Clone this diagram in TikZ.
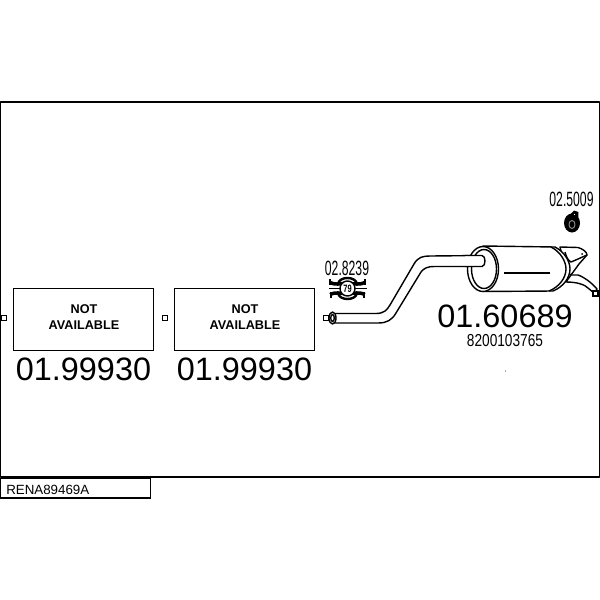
\documentclass[tikz,border=0pt]{standalone}
\usepackage{fontspec}
\setmainfont{Liberation Sans}
\tikzset{
  line/.style={draw=black,line width=1.05pt,line join=round},
  naBox/.style={draw=black,line width=1.1pt,minimum width=105pt,minimum height=46.5pt,inner sep=0pt,anchor=north west},
  naText/.style={font=\fontsize{9.5pt}{12.2pt}\selectfont\bfseries,align=center,inner sep=0pt},
  bigNum/.style={font=\fontsize{24.3pt}{24.3pt}\selectfont,inner sep=0pt},
  port/.style={draw=black,line width=1pt,fill=white,minimum size=3.6pt,inner sep=0pt},
  smallNum/.style={font=\fontsize{15.5pt}{15.5pt}\selectfont,inner sep=0pt}
}
\begin{document}
\begin{tikzpicture}[x=0.75pt,y=-0.75pt]
\useasboundingbox (0,0) rectangle (600,600);
% frame
\draw[line,line width=1.1pt] (0.5,102) rectangle (599.5,477);
\node[draw=black,line width=1.1pt,anchor=north west,minimum width=112.5pt,minimum height=14.5pt,inner sep=0pt] (idbox) at (0,478) {};
\node[anchor=west,inner sep=0pt,font=\fontsize{10pt}{10pt}\selectfont] (idtext) at (6,490) {RENA89469A};
% NA boxes
\node[naBox] (boxa) at (13,288) {};
\node[naBox] (boxb) at (174,288) {};
\node[naText] (ta) at (84,317) {NOT\\AVAILABLE};
\node[naText] (tb) at (245,317) {NOT\\AVAILABLE};
\node[bigNum] (na) at (83.5,369) {01.99930};
\node[bigNum] (nb) at (244.5,369) {01.99930};
\node[port] (p1) at (4,318) {};
\node[port] (p2) at (165,318) {};
\node[port] (p3) at (326,318) {};
% labels
\node[smallNum,xscale=0.59] (l1) at (347,268) {02.8239};
\node[smallNum,xscale=0.59] (l2) at (571.5,199.5) {02.5009};
\node[bigNum] (n3) at (505,316.5) {01.60689};
\node[font=\fontsize{13pt}{13pt}\selectfont,inner sep=0pt,xscale=0.79] (n4) at (505,340.5) {8200103765};
\fill (505.5,371) circle (0.5);
% clamp
\draw[line,line width=1.8pt] (338,284) .. controls (339,276) and (356,276) .. (357,284);
\draw[line,line width=1.8pt] (338,293) .. controls (339,301) and (356,301) .. (357,293);
\draw[line,line width=2.6pt] (330,282.5) .. controls (335,285) and (340,284) .. (347,283) .. controls (354,284) and (360,285) .. (365,282.5);
\draw[line,line width=2.6pt] (330,294.5) .. controls (335,292) and (340,293) .. (347,294) .. controls (354,293) and (360,292) .. (365,294.5);
\draw[line,line width=1.4pt] (329,288.5) -- (367,288.5);
\draw[line,line width=2pt] (330,279) -- (330,285) (365,279) -- (365,285);
\draw[line,line width=2pt] (331,292) -- (331,298) (364,292) -- (364,298);
\draw[line,fill=white] (347.5,288.5) ellipse (7.5 and 7.5);
\node[inner sep=0pt,font=\fontsize{8pt}{8pt}\selectfont\bfseries,xscale=0.7] (c79) at (347.5,288.5) {79};
% pipe
\draw[line] (333,313.5) -- (376,313.5) .. controls (384,313.5) and (387,310) .. (390,305) -- (414,264) .. controls (418,257) and (423,256) .. (430,256) -- (483,255.5);
\draw[line] (333,323) -- (378,323) .. controls (387,323) and (392,320) .. (396,313) -- (421,272) .. controls (424,268) and (428,266.5) .. (434,266.5) -- (483,266.5);
\draw[line,fill=white] (332.5,318) ellipse (3.5 and 6);
\draw[line] (332.5,318) ellipse (1.8 and 3.5);
% hanger
\fill (572,223) ellipse (8 and 9.5);
\fill (567,218) -- (574,210.5) -- (578.5,212) -- (578,222) -- cycle;
\draw[black!45,line width=0.7pt] (572,224.5) ellipse (3 and 4);
\fill[white] (574.5,214.5) circle (0.7);
% muffler tail (behind the body)
\draw[line,fill=white] (560,247) -- (578,247.5) .. controls (583,249) and (587,252) .. (587,255) -- (579,264) -- (571,275) -- (566,272) -- cycle;
\draw[line] (565,252) .. controls (567,259) and (569,261) .. (571,262) .. controls (576,260) and (580,258) .. (587,255);
\fill (582,254) circle (1);
\draw[line,fill=white] (571,275) -- (578,275) .. controls (584,277) and (592,283) .. (597,289) -- (594,293) -- (588,288) .. controls (585,285) and (578,282) .. (566,282) -- cycle;
% muffler body
\draw[line,fill=white] (483,246) -- (555,247) .. controls (565,252) and (570,262) .. (570,269) .. controls (570,278) and (563,287) .. (553,291) -- (483,291.5) -- cycle;
\draw[line] (551,247) .. controls (561,252) and (566,262) .. (566,269) .. controls (566,278) and (559,287) .. (549,291);
\draw[line,fill=white] (483,269) ellipse (15.5 and 22.5);
\draw[line] (484,269) ellipse (12.5 and 19.5);
% inlet stub over ellipse
\fill[white] (465,256.2) rectangle (483,265.8);
\draw[line] (465,255.5) -- (482,255.5) .. controls (486,255.5) and (486,266.5) .. (482,266.5) -- (465,266.5);
\draw[line] (504,273) -- (550,273);
\node[port] (p4) at (595.5,293.5) {};
\end{tikzpicture}
\end{document}
